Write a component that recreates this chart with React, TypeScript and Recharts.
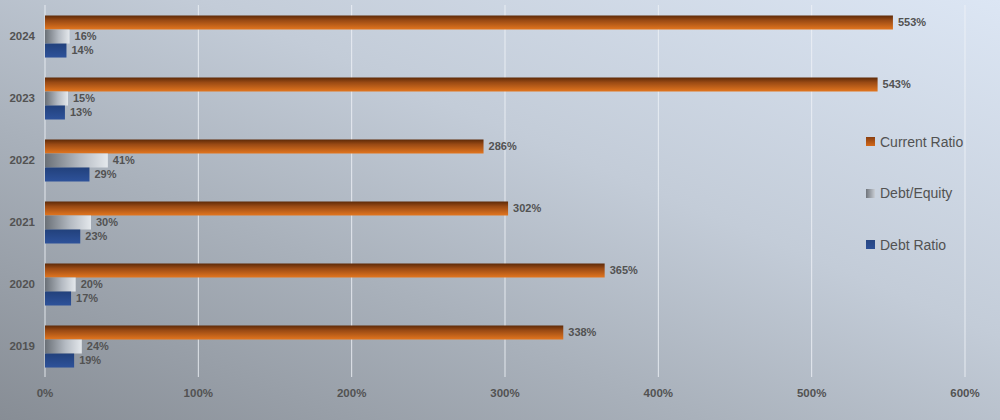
import React from "react";
import {
  BarChart,
  Bar,
  XAxis,
  YAxis,
  CartesianGrid,
  Legend,
  LabelList,
} from "recharts";

const years = ["2019", "2020", "2021", "2022", "2023", "2024"];
const currentRatio = [338, 365, 302, 286, 543, 553];
const debtEquity = [24, 20, 30, 41, 15, 16];
const debtRatio = [19, 17, 23, 29, 13, 14];
const xTicks = [0, 100, 200, 300, 400, 500, 600];

const seriesNames = {
  cr: "Current Ratio",
  de: "Debt/Equity",
  dr: "Debt Ratio",
};

const data = years.map((y, i) => ({
  year: y,
  cr: currentRatio[i],
  de: debtEquity[i],
  dr: debtRatio[i],
}));

const FONT = "'Liberation Sans', Arial, Helvetica, sans-serif";
const TEXT = "#525252";

const legendItems = [
  { key: "cr", label: seriesNames.cr, fill: "url(#lgOrange)" },
  { key: "de", label: seriesNames.de, fill: "url(#lgGray)" },
  { key: "dr", label: seriesNames.dr, fill: "url(#lgBlue)" },
];

const LegendContent = () => (
  <div style={{ fontFamily: FONT }}>
    <svg width={0} height={0} style={{ position: "absolute" }}>
      <defs>
        <linearGradient id="lgOrange" x1="0" y1="0" x2="0" y2="1">
          <stop offset="0" stopColor="#8a3f10" />
          <stop offset="1" stopColor="#d46818" />
        </linearGradient>
        <linearGradient id="lgGray" x1="0" y1="0" x2="1" y2="0">
          <stop offset="0" stopColor="#6f747b" />
          <stop offset="1" stopColor="#c9ced5" />
        </linearGradient>
        <linearGradient id="lgBlue" x1="0" y1="0" x2="0" y2="1">
          <stop offset="0" stopColor="#274682" />
          <stop offset="1" stopColor="#2c4f96" />
        </linearGradient>
      </defs>
    </svg>
    {legendItems.map((it) => (
      <div
        key={it.key}
        style={{
          height: 51.5,
          display: "flex",
          alignItems: "center",
          fontSize: 14,
          color: TEXT,
        }}
      >
        <svg width={9} height={9} style={{ marginRight: 5 }}>
          <rect x={0} y={0} width={9} height={9} fill={it.fill} />
        </svg>
        <span>{it.label}</span>
      </div>
    ))}
  </div>
);

export default function App() {
  const labelStyle = {
    fill: TEXT,
    fontSize: 11,
    fontWeight: 700,
    fontFamily: FONT,
  } as const;
  return (
    <div
      style={{
        position: "fixed",
        left: 0,
        top: 0,
        width: 1000,
        height: 420,
        background:
          "linear-gradient(to top right, #878d95 0%, #a9b1bb 35%, #c3ccd8 60%, #dce6f4 100%)",
        fontFamily: FONT,
      }}
    >
      <BarChart
        width={1000}
        height={420}
        data={data}
        layout="vertical"
        margin={{ top: 5, right: 35, bottom: 13, left: 0 }}
        barCategoryGap="17%"
        barGap={0}
      >
        <defs>
          <linearGradient id="gOrange" x1="0" y1="0" x2="0" y2="1">
            <stop offset="0" stopColor="#5e2a08" />
            <stop offset="0.35" stopColor="#9a4a14" />
            <stop offset="1" stopColor="#e3761f" />
          </linearGradient>
          <linearGradient id="gGray" x1="0" y1="0" x2="1" y2="0">
            <stop offset="0" stopColor="#6a7077" />
            <stop offset="0.55" stopColor="#b4bac2" />
            <stop offset="1" stopColor="#e4e8ec" />
          </linearGradient>
          <linearGradient id="gBlue" x1="0" y1="0" x2="0" y2="1">
            <stop offset="0" stopColor="#22417c" />
            <stop offset="1" stopColor="#2e529a" />
          </linearGradient>
        </defs>
        <CartesianGrid
          horizontal={false}
          vertical={true}
          stroke="#eef2f7"
          strokeOpacity={0.85}
        />
        <XAxis
          type="number"
          domain={[0, 600]}
          ticks={xTicks}
          tickFormatter={(v: number) => `${v}%`}
          axisLine={false}
          tickLine={false}
          tickMargin={6}
          height={30}
          tick={{ fill: TEXT, fontSize: 11.5, fontWeight: 700, fontFamily: FONT }}
        />
        <YAxis
          type="category"
          dataKey="year"
          reversed
          width={45}
          axisLine={false}
          tickLine={false}
          tickMargin={4}
          tick={{ fill: TEXT, fontSize: 11.5, fontWeight: 700, fontFamily: FONT }}
        />
        <Legend
          layout="vertical"
          align="center"
          verticalAlign="middle"
          content={<LegendContent />}
          wrapperStyle={{ position: "absolute", left: 866, top: 116, width: 120 }}
        />
        <Bar
          dataKey="cr"
          name={seriesNames.cr}
          fill="url(#gOrange)"
          isAnimationActive={false}
        >
          <LabelList
            dataKey="cr"
            position="right"
            offset={5}
            formatter={(v: number) => `${v}%`}
            style={labelStyle}
          />
        </Bar>
        <Bar
          dataKey="de"
          name={seriesNames.de}
          fill="url(#gGray)"
          isAnimationActive={false}
        >
          <LabelList
            dataKey="de"
            position="right"
            offset={5}
            formatter={(v: number) => `${v}%`}
            style={labelStyle}
          />
        </Bar>
        <Bar
          dataKey="dr"
          name={seriesNames.dr}
          fill="url(#gBlue)"
          isAnimationActive={false}
        >
          <LabelList
            dataKey="dr"
            position="right"
            offset={5}
            formatter={(v: number) => `${v}%`}
            style={labelStyle}
          />
        </Bar>
      </BarChart>
    </div>
  );
}
